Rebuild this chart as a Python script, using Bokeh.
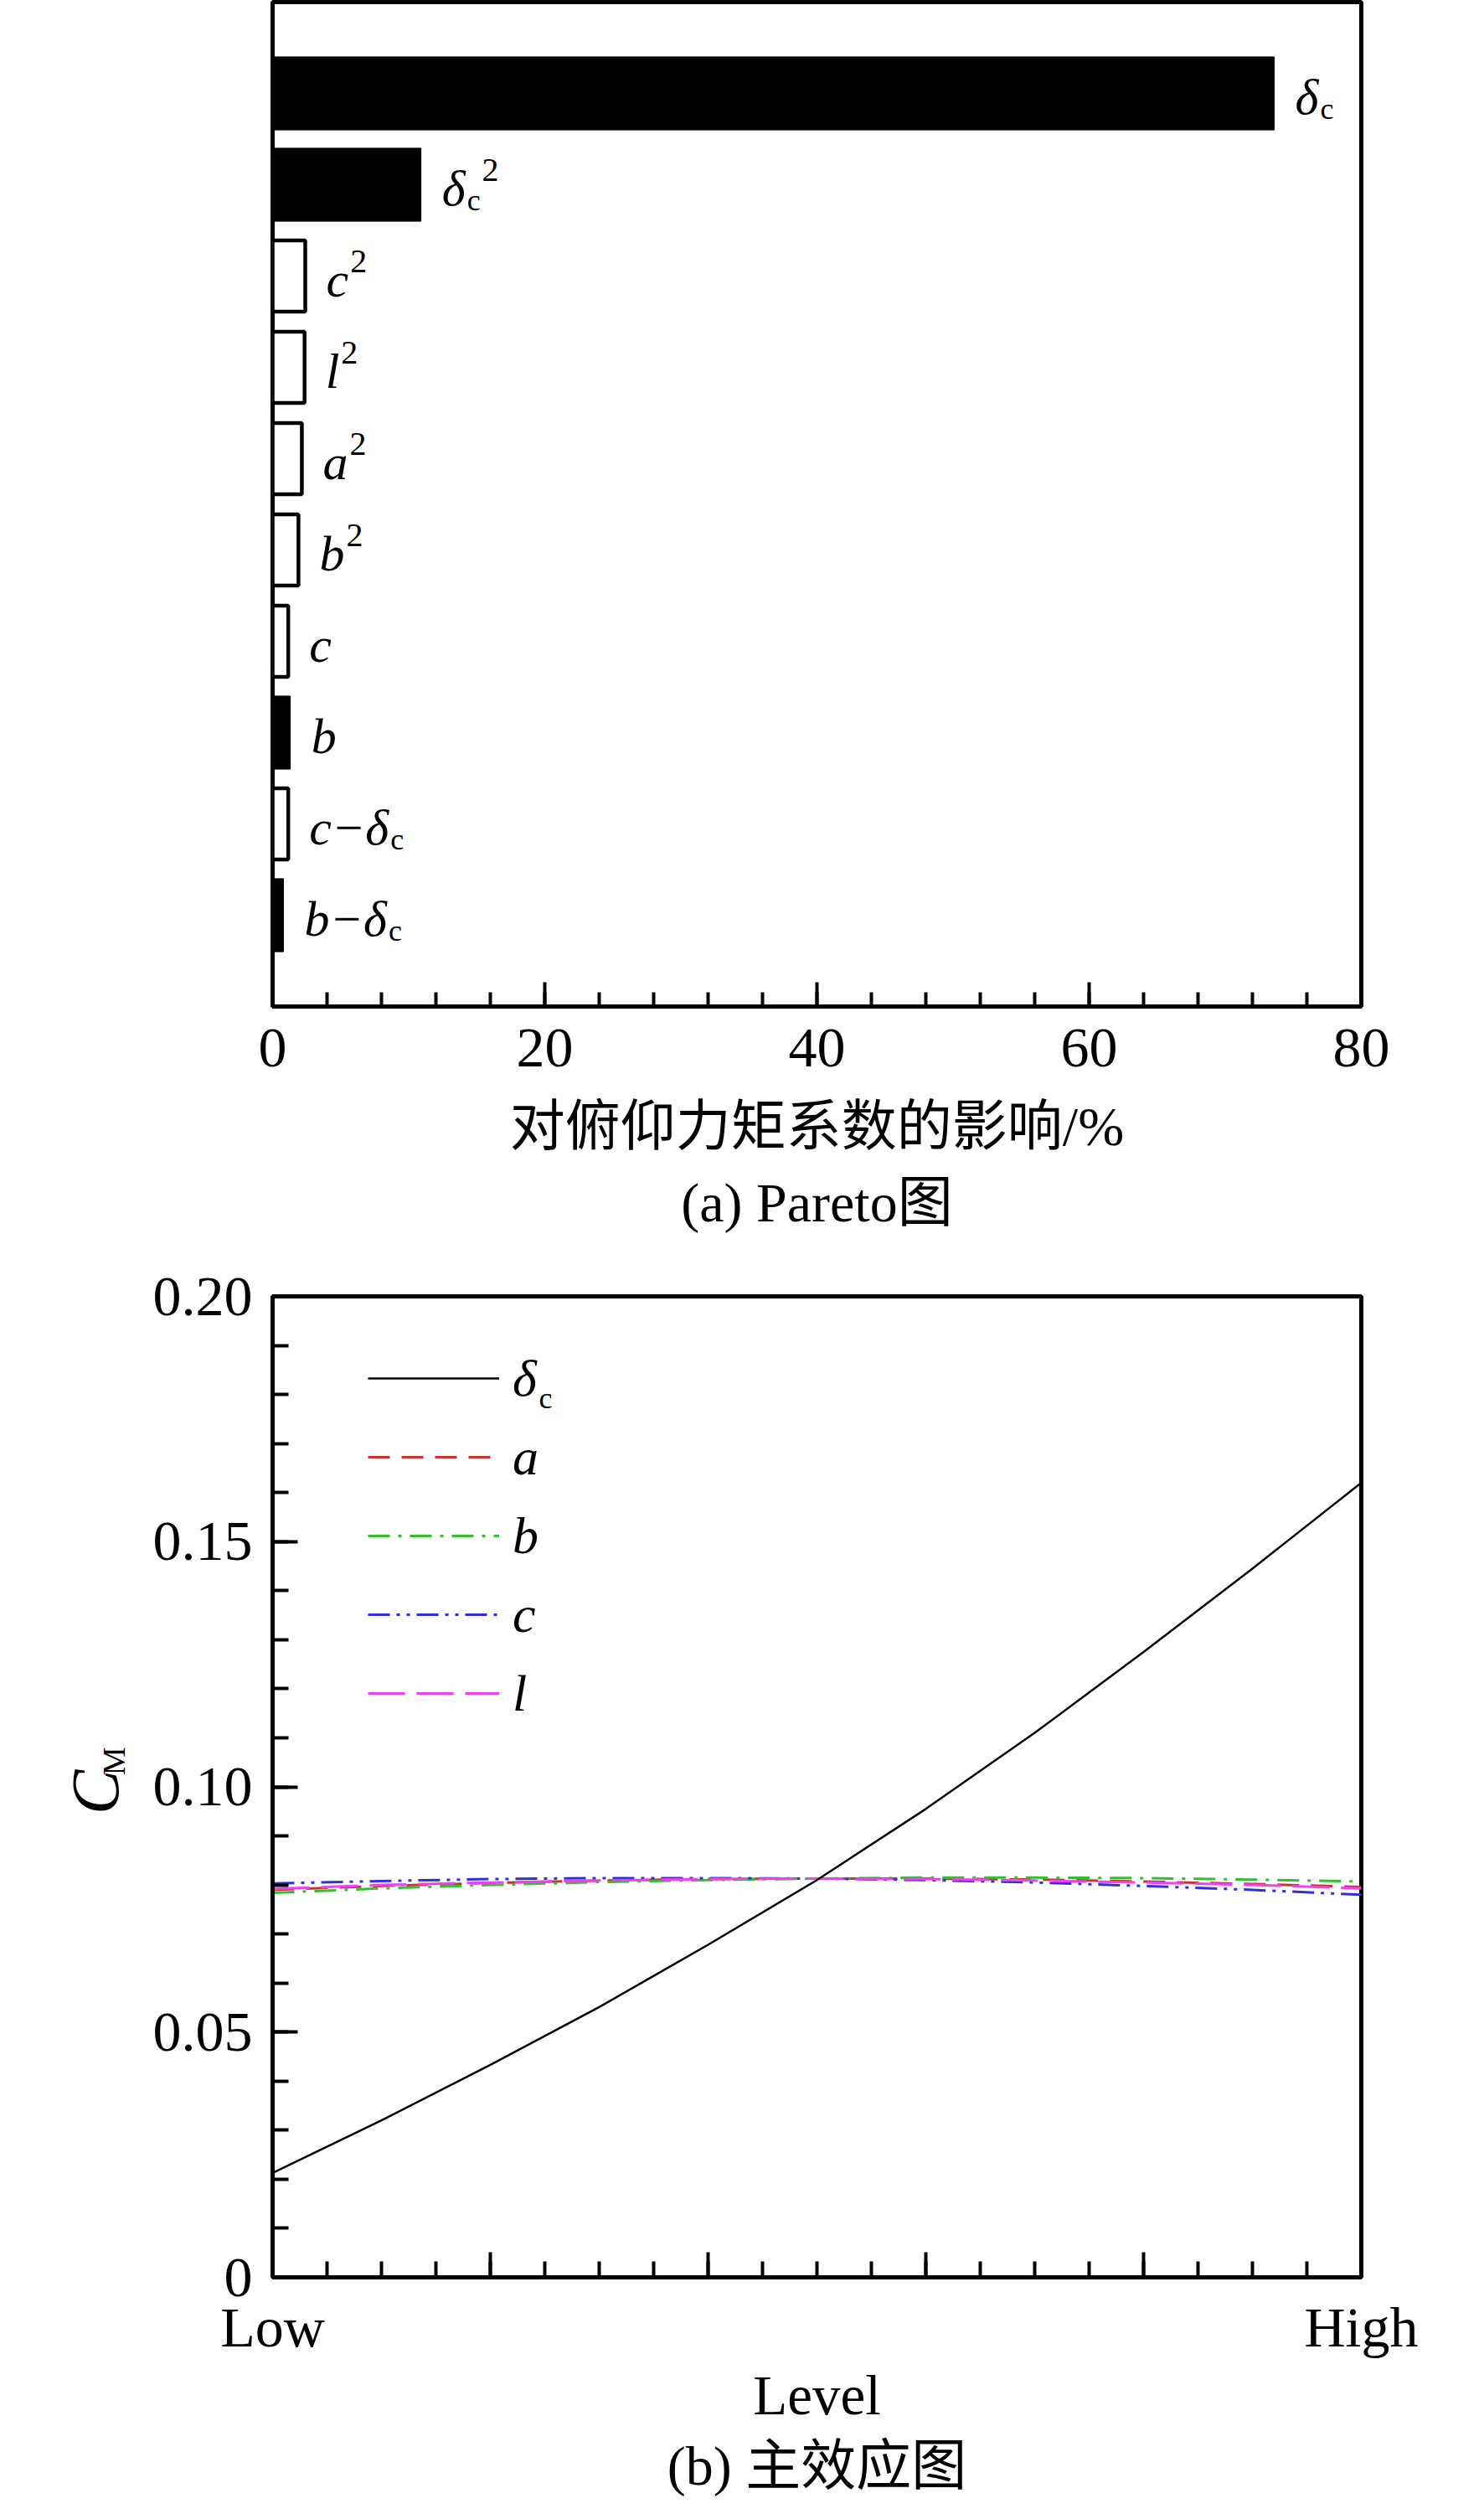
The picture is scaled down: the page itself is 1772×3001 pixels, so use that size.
from bokeh.plotting import figure
from bokeh.layouts import column, row
from bokeh.models import (Range1d, ColumnDataSource, FixedTicker, Label, Legend,
                          LegendItem, Title, NumeralTickFormatter)
from bokeh.core.properties import value
from bokeh.embed import file_html
from bokeh.resources import INLINE

# ---------------- data: (a) Pareto ----------------
term_main = ["δ", "δ", "c", "l", "a", "b", "c", "b", "c−δ", "b−δ"]
term_sub = ["c", "c", "", "", "", "", "", "", "c", "c"]
term_sup = ["", "2", "2", "2", "2", "2", "", "", "", ""]
effect_pct = [73.6, 10.9, 2.4, 2.35, 2.15, 1.9, 1.15, 1.3, 1.15, 0.8]
significant = [True, True, False, False, False, False, False, True, False, True]
pareto_ticks = [0, 20, 40, 60, 80]

# ---------------- data: (b) main effects ----------------
level = [0.0, 0.1, 0.2, 0.3, 0.4, 0.5, 0.6, 0.7, 0.8, 0.9, 1.0]
cm_delta_c = [0.0213, 0.0320, 0.0433, 0.0551, 0.0678, 0.0810, 0.0955, 0.1110, 0.1275, 0.1445, 0.1620]
cm_a = [0.0790, 0.0798, 0.0804, 0.0809, 0.0812, 0.0813, 0.0813, 0.0811, 0.0807, 0.0802, 0.0796]
cm_b = [0.0784, 0.0793, 0.0800, 0.0806, 0.0810, 0.0813, 0.0815, 0.0815, 0.0814, 0.0811, 0.0807]
cm_c = [0.0803, 0.0808, 0.0812, 0.0814, 0.0814, 0.0813, 0.0810, 0.0805, 0.0798, 0.0790, 0.0780]
cm_l = [0.0792, 0.0800, 0.0805, 0.0809, 0.0812, 0.0813, 0.0812, 0.0809, 0.0805, 0.0800, 0.0793]
cm_ticks = [0, 0.05, 0.10, 0.15, 0.20]
cm_tick_labels = ["0", "0.05", "0.10", "0.15", "0.20"]
level_ticks = [0.0, 0.2, 0.4, 0.6, 0.8, 1.0]
level_tick_labels = ["Low", "", "", "", "", "High"]

SERIF = "Liberation Serif"
MIXED = "'Liberation Serif', 'Noto Sans CJK SC'"
TICK_PX = "68px"

W = 1756
LEFT = 325
FW = 1300
RIGHT = W - LEFT - FW

# ================= (a) Pareto chart =================
H1 = 1500
FH1 = 1199
TOP1 = 2
p1 = figure(width=W, height=H1, output_backend="svg", toolbar_location=None,
            x_range=Range1d(0, 80), y_range=Range1d(0, len(effect_pct) + 1),
            min_border_left=LEFT, min_border_right=RIGHT, min_border_top=TOP1,
            min_border_bottom=H1 - TOP1 - FH1)
p1.grid.visible = False
p1.outline_line_color = "black"
p1.outline_line_width = 5
p1.background_fill_color = "white"
p1.border_fill_color = "white"
p1.yaxis.visible = False

ax = p1.xaxis[0]
ax.ticker = FixedTicker(ticks=pareto_ticks, minor_ticks=list(range(0, 81, 4)))
ax.axis_line_width = 5
ax.major_tick_in = 29
ax.major_tick_out = 0
ax.minor_tick_in = 17
ax.minor_tick_out = 0
ax.major_tick_line_width = 4
ax.minor_tick_line_width = 4
ax.major_label_standoff = 27
ax.major_label_text_font = SERIF
ax.major_label_text_font_size = TICK_PX
ax.major_label_text_color = "black"
ax.axis_label = "对俯仰力矩系数的影响/%"
ax.axis_label_text_font = MIXED
ax.axis_label_text_font_style = "normal"
ax.axis_label_text_font_size = "66px"
ax.axis_label_text_color = "black"
ax.axis_label_standoff = 32

n = len(effect_pct)
MAIN_PX = 60
SUB_PX = 36
SUP_PX = 40
cw = {"δ": 0.5, "c": 0.444, "l": 0.278, "a": 0.5, "b": 0.5, "−": 0.675}


def main_width(s):
    return sum(cw.get(ch, 0.5) for ch in s) * MAIN_PX


def sub_width(s):
    return 0.444 * SUB_PX * len(s)


pos = [n - i for i in range(n)]
LX = 25
LY = 4
src = dict(
    pos=pos, effect=effect_pct, main=term_main, sub=term_sub, sup=term_sup,
    fill=["black" if s else "white" for s in significant],
    lw=[1 if s else 4.5 for s in significant],
    hgt=[0.8 if s else 0.78 for s in significant],
    sub_dx=[LX + main_width(m) for m in term_main],
    sup_dx=[LX + main_width(m) + sub_width(sb) + 2 for m, sb in zip(term_main, term_sub)],
)
s1 = ColumnDataSource(src)
p1.hbar(y="pos", left=0, right="effect", height="hgt", fill_color="fill",
        line_color="black", line_width="lw", source=s1)
p1.text(x="effect", y="pos", text="main", source=s1, x_offset=LX, y_offset=LY,
        text_font=value(SERIF), text_font_style="italic", text_font_size=f"{MAIN_PX}px",
        text_baseline="alphabetic", text_align="left", text_color="black")
p1.text(x="effect", y="pos", text="sub", source=s1, x_offset="sub_dx", y_offset=LY + 14,
        text_font=value(SERIF), text_font_style="normal", text_font_size=f"{SUB_PX}px",
        text_baseline="alphabetic", text_align="left", text_color="black")
p1.text(x="effect", y="pos", text="sup", source=s1, x_offset="sup_dx", y_offset=LY - 22,
        text_font=value(SERIF), text_font_style="normal", text_font_size=f"{SUP_PX}px",
        text_baseline="alphabetic", text_align="left", text_color="black")

t1 = Title(text="(a) Pareto图", align="center", text_font=MIXED, text_font_size="66px",
           text_font_style="normal", text_color="black", standoff=26)
p1.add_layout(t1, "below")

# ================= (b) main effects =================
H2 = 2985 - H1
FRAME2_TOP = 1547
TOP2 = FRAME2_TOP - H1
FH2 = 1171
BOT2 = H2 - TOP2 - FH2
LW = 170
p2 = figure(width=W - LW, height=H2, output_backend="svg", toolbar_location=None,
            x_range=Range1d(0, 1), y_range=Range1d(0, 0.2),
            min_border_left=LEFT - LW, min_border_right=RIGHT, min_border_top=TOP2,
            min_border_bottom=BOT2)
p2.grid.visible = False
p2.outline_line_color = "black"
p2.outline_line_width = 5
p2.background_fill_color = "white"
p2.border_fill_color = "white"

for a in (p2.xaxis[0], p2.yaxis[0]):
    a.axis_line_width = 5
    a.major_tick_in = 30
    a.major_tick_out = 0
    a.minor_tick_in = 19
    a.minor_tick_out = 0
    a.major_tick_line_width = 4
    a.minor_tick_line_width = 4
    a.major_label_text_font = SERIF
    a.major_label_text_font_size = TICK_PX
    a.major_label_text_color = "black"

xa = p2.xaxis[0]
xa.ticker = FixedTicker(ticks=level_ticks, minor_ticks=[k / 20 for k in range(21)])
xa.major_label_overrides = dict(zip(level_ticks, level_tick_labels))
xa.major_label_standoff = 21
xa.axis_label = "Level"
xa.axis_label_text_font = SERIF
xa.axis_label_text_font_style = "normal"
xa.axis_label_text_font_size = "67px"
xa.axis_label_text_color = "black"
xa.axis_label_standoff = 3

ya = p2.yaxis[0]
ya.ticker = FixedTicker(ticks=cm_ticks, minor_ticks=[k / 100 for k in range(21)])
ya.formatter = NumeralTickFormatter(format="0.00")
ya.major_label_overrides = dict(zip(cm_ticks, cm_tick_labels))
ya.major_label_standoff = 24
ya.major_label_orientation = "horizontal"

r_a = p2.line(level, cm_a, line_color="#d03030", line_width=3, line_dash="26 14")
r_b = p2.line(level, cm_b, line_color="#30c030", line_width=3, line_dash="26 10 4 10")
r_c = p2.line(level, cm_c, line_color="#3030e0", line_width=3, line_dash="26 8 4 8 4 8")
r_l = p2.line(level, cm_l, line_color="#f040f0", line_width=3, line_dash="44 14")
r_d = p2.line(level, cm_delta_c, line_color="black", line_width=2.5)

LEG_X = 114
LEG_TOP = 51
ITEM_H = 94
GLYPH_W = 157
STANDOFF = 16
legend = Legend(items=[LegendItem(label="δ", renderers=[r_d]),
                       LegendItem(label="a", renderers=[r_a]),
                       LegendItem(label="b", renderers=[r_b]),
                       LegendItem(label="c", renderers=[r_c]),
                       LegendItem(label="l", renderers=[r_l])],
                location=(LEG_X, FH2 - LEG_TOP - 5 * ITEM_H),
                glyph_width=GLYPH_W, glyph_height=ITEM_H, label_height=ITEM_H,
                spacing=0, padding=0, margin=0, border_line_color=None,
                background_fill_alpha=0, label_standoff=STANDOFF,
                label_text_font=SERIF, label_text_font_style="italic",
                label_text_font_size="62px", label_text_color="black")
p2.add_layout(legend)
p2.add_layout(Label(x=LEG_X + GLYPH_W + STANDOFF + 31, y=FH2 - (LEG_TOP + ITEM_H / 2) - 23,
                    x_units="screen", y_units="screen", text="c", text_font=SERIF,
                    text_font_size="36px", text_baseline="alphabetic", text_align="left",
                    text_color="black"))

t2 = Title(text="(b) 主效应图", align="center", text_font=MIXED, text_font_size="66px",
           text_font_style="normal", text_color="black", standoff=12)
p2.add_layout(t2, "below")

# ---- y-axis title C_M, drawn in a narrow strip left of (b) whose frame is aligned with (b) ----
p_lab = figure(width=LW, height=H2, output_backend="svg", toolbar_location=None,
               x_range=Range1d(0, LW), y_range=Range1d(0, 0.2),
               min_border_left=0, min_border_right=0, min_border_top=TOP2,
               min_border_bottom=BOT2)
p_lab.axis.visible = False
p_lab.grid.visible = False
p_lab.outline_line_color = None
p_lab.background_fill_color = "white"
p_lab.border_fill_color = "white"
cm_label_pos = 0.0989   # height of the C_M title on the C_M scale
p_lab.text(x=[113], y=[cm_label_pos], text=["C"], angle=1.5707963,
           text_font=value(SERIF), text_font_style="italic", text_font_size="80px",
           text_align="center", text_baseline="middle", text_color="black")
p_lab.text(x=[113], y=[cm_label_pos], text=["M"], angle=1.5707963,
           x_offset=22, y_offset=-37,
           text_font=value(SERIF), text_font_style="normal", text_font_size="38px",
           text_align="center", text_baseline="middle", text_color="black")

layout = column(p1, row(p_lab, p2, spacing=0), spacing=0)
open("out.html", "w").write(file_html(layout, INLINE))
